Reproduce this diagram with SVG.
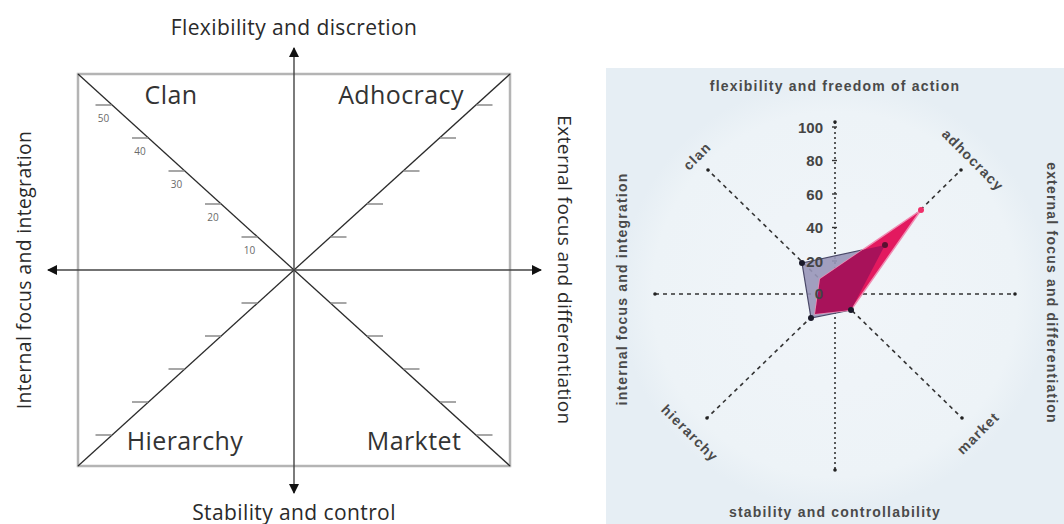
<svg xmlns="http://www.w3.org/2000/svg" width="1064" height="524" viewBox="0 0 1064 524">
<defs>
<style>
.lt{font-family:"Open Sans","Liberation Sans",sans-serif;fill:#2a2a2a}
.ax{font-size:21px;letter-spacing:0.4px}
.q{font-size:25px;letter-spacing:0.4px;fill:#333}
.tk{font-size:10px;fill:#6a6a6a;text-anchor:middle}
.box{fill:none;stroke:#b4b4b4;stroke-width:2.5}
.diag{stroke:#2a2a2a;stroke-width:1.3}
.axis{stroke:#444;stroke-width:1.4}
.tick{stroke:#8a8a8a;stroke-width:1.5}
.rt{font-family:"Liberation Sans",Arial,sans-serif;font-weight:bold;fill:#4a4a4a}
.rax{font-size:14px;letter-spacing:1.2px;text-anchor:middle}
.num{font-size:15px;text-anchor:end;fill:#444}
.dash{stroke:#333;stroke-width:1.6;stroke-dasharray:4 4;fill:none}
.vdash{stroke:#333;stroke-width:1.6;stroke-dasharray:2 3;fill:none}
</style>
<marker id="arr" viewBox="0 0 10 10" refX="9" refY="5" markerWidth="10" markerHeight="10" markerUnits="userSpaceOnUse" orient="auto">
<path d="M0,0 L10,5 L0,10 z" fill="#111"/>
</marker>
<clipPath id="grayclip"><polygon points="802,263 885,245 851,310 811,318"/></clipPath>
<radialGradient id="glow" cx="0.5" cy="0.5" r="0.5">
<stop offset="0" stop-color="#f1f5f9"/>
<stop offset="0.85" stop-color="#edf3f7"/>
<stop offset="1" stop-color="#e6eef4"/>
</radialGradient>
</defs>
<rect width="1064" height="524" fill="#ffffff"/>

<g id="left-diagram">
<g id="frame">
<rect class="box" x="78" y="74" width="432" height="392"/>
<line class="diag" x1="78" y1="74" x2="510" y2="466"/>
<line class="diag" x1="510" y1="74" x2="78" y2="466"/>
</g>
<g id="connectors">
<line class="axis" x1="294" y1="270" x2="294" y2="48" marker-end="url(#arr)"/>
<line class="axis" x1="294" y1="270" x2="294" y2="493" marker-end="url(#arr)"/>
<line class="axis" x1="294" y1="270" x2="48" y2="270" marker-end="url(#arr)"/>
<line class="axis" x1="294" y1="270" x2="541" y2="270" marker-end="url(#arr)"/>
</g>
<g id="ticks">
<line class="tick" x1="241.5" y1="237" x2="257.5" y2="237"/>
<line class="tick" x1="205" y1="204" x2="221" y2="204"/>
<line class="tick" x1="168.5" y1="171" x2="184.5" y2="171"/>
<line class="tick" x1="132" y1="138" x2="148" y2="138"/>
<line class="tick" x1="95.5" y1="105" x2="111.5" y2="105"/>
<text class="lt tk" x="249.5" y="254">10</text>
<text class="lt tk" x="213" y="221">20</text>
<text class="lt tk" x="176.5" y="188">30</text>
<text class="lt tk" x="140" y="155">40</text>
<text class="lt tk" x="103.5" y="122">50</text>
<line class="tick" x1="330.5" y1="237" x2="346.5" y2="237"/>
<line class="tick" x1="367" y1="204" x2="383" y2="204"/>
<line class="tick" x1="403.5" y1="171" x2="419.5" y2="171"/>
<line class="tick" x1="440" y1="138" x2="456" y2="138"/>
<line class="tick" x1="476.5" y1="105" x2="492.5" y2="105"/>
<line class="tick" x1="241.5" y1="303" x2="257.5" y2="303"/>
<line class="tick" x1="205" y1="336" x2="221" y2="336"/>
<line class="tick" x1="168.5" y1="369" x2="184.5" y2="369"/>
<line class="tick" x1="132" y1="402" x2="148" y2="402"/>
<line class="tick" x1="95.5" y1="435" x2="111.5" y2="435"/>
<line class="tick" x1="330.5" y1="303" x2="346.5" y2="303"/>
<line class="tick" x1="367" y1="336" x2="383" y2="336"/>
<line class="tick" x1="403.5" y1="369" x2="419.5" y2="369"/>
<line class="tick" x1="440" y1="402" x2="456" y2="402"/>
<line class="tick" x1="476.5" y1="435" x2="492.5" y2="435"/>
</g>
<g id="clan"><text class="lt q" x="171" y="104" text-anchor="middle">Clan</text></g>
<g id="adhocracy"><text class="lt q" x="401" y="104" text-anchor="middle">Adhocracy</text></g>
<g id="hierarchy"><text class="lt q" x="185" y="450" text-anchor="middle">Hierarchy</text></g>
<g id="market"><text class="lt q" x="414" y="450" text-anchor="middle">Marktet</text></g>
<g id="axis-labels">
<text class="lt ax" x="294" y="35" text-anchor="middle">Flexibility and discretion</text>
<text class="lt ax" x="294" y="520" text-anchor="middle">Stability and control</text>
<text class="lt ax" transform="translate(31,270) rotate(-90)" text-anchor="middle" style="font-size:19.3px">Internal focus and integration</text>
<text class="lt ax" transform="translate(558,270) rotate(90)" text-anchor="middle" style="font-size:19px">External focus and differentiation</text>
</g>
</g>

<g id="right-diagram">
<rect x="606" y="68" width="458" height="456" fill="#e6eef4"/>
<circle cx="835" cy="294" r="215" fill="url(#glow)"/>
<g id="radar-axes">
<line class="dash" x1="655" y1="294" x2="1015" y2="294"/>
<line class="vdash" x1="835" y1="122" x2="835" y2="470"/>
<line class="dash" x1="835" y1="294" x2="708" y2="170"/>
<line class="dash" x1="835" y1="294" x2="961" y2="170"/>
<line class="dash" x1="835" y1="294" x2="707" y2="418"/>
<line class="dash" x1="835" y1="294" x2="962" y2="418"/>
<g fill="#222">
<circle cx="655" cy="294" r="1.8"/><circle cx="1015" cy="294" r="1.8"/>
<circle cx="835" cy="122" r="1.8"/><circle cx="835" cy="470" r="1.8"/>
<circle cx="708" cy="170" r="1.8"/><circle cx="961" cy="170" r="1.8"/>
<circle cx="707" cy="418" r="1.8"/><circle cx="962" cy="418" r="1.8"/>
</g>
<g stroke="#333" stroke-width="1.4">
<line x1="832" y1="127" x2="837" y2="127"/>
<line x1="832" y1="160.5" x2="837" y2="160.5"/>
<line x1="832" y1="194" x2="837" y2="194"/>
<line x1="832" y1="227.5" x2="837" y2="227.5"/>
<line x1="832" y1="261" x2="837" y2="261"/>
<line x1="832" y1="294" x2="837" y2="294"/>
</g>
</g>
<g id="series-gray">
<polygon points="802,263 885,245 851,310 811,318" fill="#9896b8" fill-opacity="0.9" stroke="#4a4868" stroke-width="1.2"/>
</g>
<g id="series-pink">
<polygon points="820,279 921,210 851,310 815,314" fill="#e3195f" stroke="#f08cb2" stroke-width="1.5"/>
<polygon points="820,279 921,210 851,310 815,314" fill="#a8125a" clip-path="url(#grayclip)"/>
</g>
<g id="points">
<circle cx="802" cy="263" r="3" fill="#1a1a2a"/>
<circle cx="885" cy="245" r="3" fill="#5a1030"/>
<circle cx="851" cy="310" r="3" fill="#1a1a2a"/>
<circle cx="811" cy="318" r="3" fill="#1a1a2a"/>
<circle cx="921" cy="210" r="3" fill="#f0306a"/>
</g>
<g id="scale">
<text class="rt num" x="823" y="133">100</text>
<text class="rt num" x="823" y="166">80</text>
<text class="rt num" x="823" y="199.5">60</text>
<text class="rt num" x="823" y="233">40</text>
<text class="rt num" x="823" y="267">20</text>
<text class="rt num" x="823" y="299">0</text>
</g>
<g id="radar-labels">
<text class="rt rax" x="835" y="91">flexibility and freedom of action</text>
<text class="rt rax" x="835" y="517">stability and controllability</text>
<text class="rt rax" transform="translate(627,289) rotate(-90)">internal focus and integration</text>
<text class="rt rax" transform="translate(1047,293) rotate(90)">external focus and differentiation</text>
<text class="rt rax" transform="translate(697,156) rotate(-45)" dy="5">clan</text>
<text class="rt rax" transform="translate(973,160) rotate(45)" dy="5">adhocracy</text>
<text class="rt rax" transform="translate(690,433) rotate(45)" dy="5">hierarchy</text>
<text class="rt rax" transform="translate(978,433) rotate(-45)" dy="5">market</text>
</g>
</g>
</svg>
